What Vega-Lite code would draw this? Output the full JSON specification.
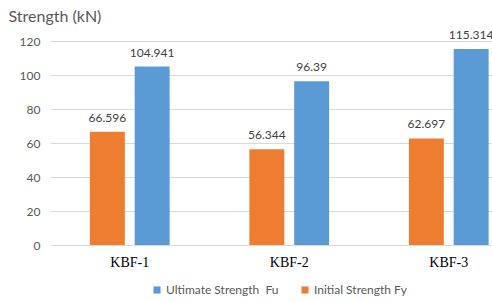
{
  "$schema": "https://vega.github.io/schema/vega-lite/v6.json",
  "width": 442,
  "height": 204,
  "autosize": "none",
  "padding": {"left": 50, "top": 41, "right": 0, "bottom": 57},
  "background": "white",
  "config": {"view": {"stroke": null}, "font": "Lato"},
  "data": {"values": [
    {"specimen": "KBF-1", "series": "Initial Strength Fy", "value": 66.596, "label": "66.596"},
    {"specimen": "KBF-1", "series": "Ultimate Strength\u00a0 Fu", "value": 104.941, "label": "104.941"},
    {"specimen": "KBF-2", "series": "Initial Strength Fy", "value": 56.344, "label": "56.344"},
    {"specimen": "KBF-2", "series": "Ultimate Strength\u00a0 Fu", "value": 96.39, "label": "96.39"},
    {"specimen": "KBF-3", "series": "Initial Strength Fy", "value": 62.697, "label": "62.697"},
    {"specimen": "KBF-3", "series": "Ultimate Strength\u00a0 Fu", "value": 115.314, "label": "115.314"}
  ]},
  "encoding": {
    "x": {"field": "specimen", "type": "nominal",
      "scale": {"range": [0, 478.5], "paddingInner": 0.5, "paddingOuter": 0.25},
      "axis": {"title": null, "labelAngle": 0, "ticks": false, "domain": false,
        "labelFont": "Liberation Serif", "labelFontSize": 14, "labelColor": "#000000", "labelPadding": 10}},
    "xOffset": {"field": "series", "type": "nominal",
      "sort": ["Initial Strength Fy", "Ultimate Strength\u00a0 Fu"],
      "scale": {"paddingInner": 0.22, "paddingOuter": 0}},
    "y": {"field": "value", "type": "quantitative",
      "scale": {"domain": [0, 120]},
      "axis": {"values": [0, 20, 40, 60, 80, 100, 120], "ticks": false, "domain": false,
        "gridColor": "#d9d9d9", "gridWidth": 1, "labelColor": "#595959", "labelFontSize": 12, "labelPadding": 10,
        "title": "Strength (kN)", "titleAngle": 0, "titleAlign": "left", "titleBaseline": "middle",
        "titleX": -42, "titleY": -25, "titleFontSize": 16, "titleFontWeight": "normal", "titleColor": "#595959"}}
  },
  "layer": [
    {"mark": {"type": "bar"},
      "encoding": {
        "color": {"field": "series", "type": "nominal",
          "scale": {"domain": ["Ultimate Strength\u00a0 Fu", "Initial Strength Fy"], "range": ["#5B9BD5", "#ED7D31"]},
          "legend": {"title": null, "orient": "none", "direction": "horizontal", "legendX": 101, "legendY": 243,
            "symbolType": "square", "symbolSize": 50, "symbolStrokeWidth": 0, "labelFontSize": 12, "labelColor": "#595959",
            "columnPadding": 20, "labelOffset": 3}}
      }},
    {"mark": {"type": "text", "baseline": "bottom", "dy": -7, "fontSize": 12, "color": "#404040"},
      "encoding": {"text": {"field": "label"}}}
  ]
}
